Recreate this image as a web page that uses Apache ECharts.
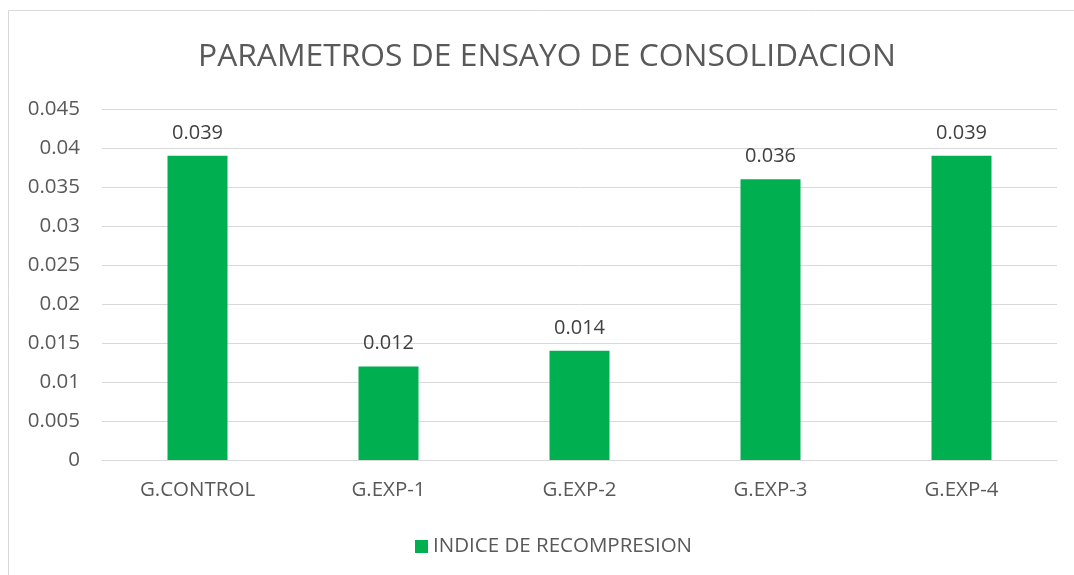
<!DOCTYPE html>
<html><head><meta charset="utf-8">
<script src="https://cdn.jsdelivr.net/npm/echarts@6/dist/echarts.min.js"></script>
<style>html,body{margin:0;padding:0;background:#fff}#c{width:1074px;height:575px}</style>
</head><body><div id="c"></div>
<script>
const categories = ['G.CONTROL','G.EXP-1','G.EXP-2','G.EXP-3','G.EXP-4'];
const seriesName = 'INDICE DE RECOMPRESION';
const values = [0.039, 0.012, 0.014, 0.036, 0.039];
const yTicks = [0, 0.005, 0.01, 0.015, 0.02, 0.025, 0.03, 0.035, 0.04, 0.045];
const chart = echarts.init(document.getElementById('c'));
const F = 'Open Sans, Liberation Sans, sans-serif';
chart.setOption({
  animation:false,
  title:{text:'PARAMETROS DE ENSAYO DE CONSOLIDACION',left:193,top:36,
    textStyle:{fontFamily:F,fontSize:31.8,fontWeight:'normal',color:'#595959'}},
  graphic:[{type:'rect',shape:{x:8.5,y:10.5,width:1100,height:700},
    style:{fill:'none',stroke:'#d9d9d9',lineWidth:1},silent:true}],
  legend:{bottom:13,left:410,itemWidth:13,itemHeight:13,icon:'rect',itemGap:6,
    textStyle:{fontFamily:F,fontSize:20.5,color:'#595959'},data:[seriesName]},
  grid:{left:102,right:17,top:109,bottom:115,containLabel:false},
  xAxis:{type:'category',data:categories,
    axisLine:{lineStyle:{color:'#d9d9d9',width:1}},axisTick:{show:false},
    axisLabel:{fontFamily:F,fontSize:20.5,color:'#595959',margin:20}},
  yAxis:{type:'value',min:0,max:0.045,interval:0.005,
    axisLine:{show:false},axisTick:{show:false},
    splitLine:{lineStyle:{color:'#d9d9d9',width:1}},
    axisLabel:{fontFamily:F,fontSize:20.5,color:'#595959',margin:22,
      formatter:v=>{const t=yTicks.find(x=>Math.abs(x-v)<1e-9);return String(t!==undefined?t:v);}}},
  series:[{name:seriesName,type:'bar',data:values,barWidth:60,
    itemStyle:{color:'#00b050'},
    label:{show:true,position:'top',distance:13,fontFamily:F,fontSize:20,color:'#404040'}}]
});
</script></body></html>
